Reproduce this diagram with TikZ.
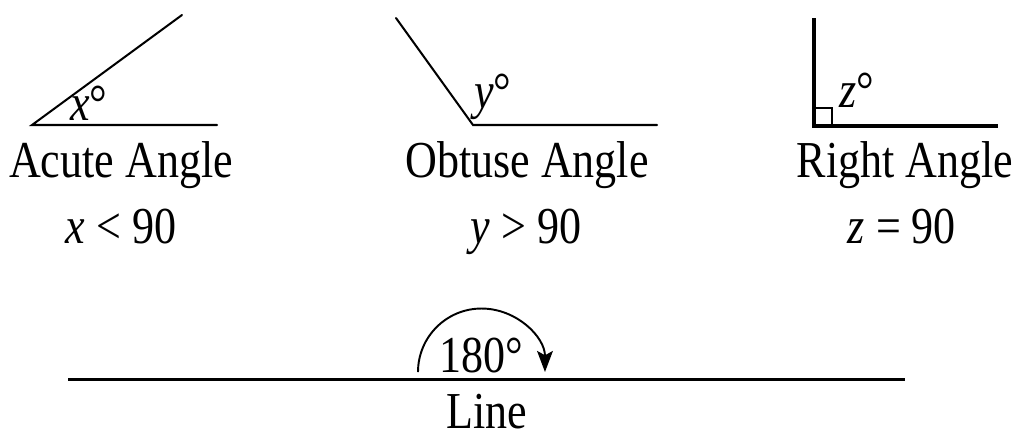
\documentclass[tikz,border=0pt]{standalone}
\usepackage{fontspec}
\setmainfont[FakeStretch=0.85]{Liberation Serif}
\usetikzlibrary{arrows.meta}
\tikzset{
  lbl/.style={inner sep=0pt, anchor=base, font=\fontsize{29.5}{32}\selectfont},
  thinray/.style={line width=1.15pt, line cap=round},
  thickray/.style={line width=1.9pt},
}
\begin{document}
\begin{tikzpicture}[x=0.02cm, y=-0.02cm]
\useasboundingbox (0,0) rectangle (1020,434);
% Acute angle
\coordinate (av) at (32,125);
\coordinate (ah) at (217,125);
\coordinate (au) at (182,15);
\draw[thinray] (au) -- (av) -- (ah);
\node[lbl] (ax) at (89,120) {\textit{x}°};
\node[lbl] (at) at (121,177) {Acute Angle};
\node[lbl] (af) at (121,243) {\textit{x} < 90};
% Obtuse angle
\coordinate (ov) at (473,125);
\coordinate (oh) at (657,125);
\coordinate (ou) at (396,18);
\draw[thinray] (ou) -- (ov) -- (oh);
\node[lbl] (oy) at (493,108) {\textit{y}°};
\node[lbl] (ot) at (527,177) {Obtuse Angle};
\node[lbl] (of) at (526,243) {\textit{y} > 90};
% Right angle
\coordinate (rv) at (814,126);
\coordinate (rh) at (998,126);
\coordinate (ru) at (814,18);
\draw[thickray] (ru) -- (rv) -- (rh);
\coordinate (sq1) at (814,108);
\coordinate (sq2) at (832,126);
\draw[line width=1.4pt] (sq1) -| (sq2);
\node[lbl] (rz) at (857,107) {\textit{z}°};
\node[lbl] (rt) at (905,177) {Right Angle};
\node[lbl] (rf) at (902,243) {\textit{z} = 90};
% Line
\coordinate (l1) at (68,379);
\coordinate (l2) at (905,379);
\draw[line width=1.7pt] (l1) -- (l2);
\coordinate (arcs) at (418,372);
\draw[line width=1.1pt, -{Stealth[length=12pt, width=9pt, inset=2.5pt]}] (arcs) arc[start angle=180, end angle=0, radius=1.27cm];
\node[lbl] (deg) at (481,372) {180°};
\node[lbl] (ln) at (487,428) {Line};
\end{tikzpicture}
\end{document}
